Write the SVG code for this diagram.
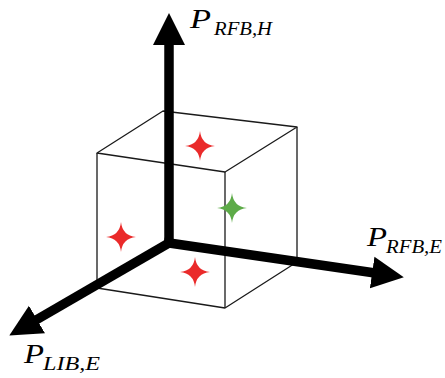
<svg xmlns="http://www.w3.org/2000/svg" width="445" height="378" viewBox="0 0 445 378">
<style>
.edge{fill:none;stroke:#1a1a1a;stroke-width:1.3;stroke-linejoin:round}
.axis{fill:none;stroke:#000;stroke-width:9.5}
.lbl{font-family:"Liberation Serif",serif;font-style:italic;fill:#000}
.P{font-size:28px}
.sub{font-size:19px}
.red{fill:#ea2a2a}
.green{fill:#5dab48}
</style>
<defs>
<marker id="ah" markerUnits="userSpaceOnUse" markerWidth="34" markerHeight="34" viewBox="0 0 34 34" refX="15" refY="16.5" orient="auto">
<path d="M0,0.5 L32,16.5 L0,32.5 z" fill="#000"/>
</marker>
<path id="star" d="M0,-15 Q1.4,-1.4 15,0 Q1.4,1.4 0,15 Q-1.4,1.4 -15,0 Q-1.4,-1.4 0,-15Z"/>
</defs>
<g id="cube">
<path class="edge" d="M97,153 L163,111 L297,127 L225,172 Z"/>
<path class="edge" d="M97,153 L97,288 L225,308 L297,262 L297,127"/>
<path class="edge" d="M225,172 L225,308"/>
</g>
<g id="points">
<use href="#star" class="red" transform="translate(200,146)"/>
<use href="#star" class="green" transform="translate(232,208)"/>
<use href="#star" class="red" transform="translate(121,237)"/>
<use href="#star" class="red" transform="translate(195,272)"/>
</g>
<g id="connectors">
<line class="axis" x1="169" y1="248" x2="169" y2="30" marker-end="url(#ah)"/>
<line class="axis" x1="164" y1="242.3" x2="387" y2="274.7" marker-end="url(#ah)"/>
<line class="axis" x1="173" y1="240.7" x2="24" y2="327" marker-end="url(#ah)"/>
</g>
<g id="label-h">
<text class="lbl P" x="190" y="28" textLength="21" lengthAdjust="spacingAndGlyphs">P</text>
<text class="lbl sub" x="214" y="35" textLength="58" lengthAdjust="spacingAndGlyphs">RFB,H</text>
</g>
<g id="label-e">
<text class="lbl P" x="367" y="246" textLength="20" lengthAdjust="spacingAndGlyphs">P</text>
<text class="lbl sub" x="386" y="253" textLength="56" lengthAdjust="spacingAndGlyphs">RFB,E</text>
</g>
<g id="label-lib">
<text class="lbl P" x="24" y="363" textLength="20" lengthAdjust="spacingAndGlyphs">P</text>
<text class="lbl sub" x="43" y="370" textLength="57" lengthAdjust="spacingAndGlyphs">LIB,E</text>
</g>
</svg>
